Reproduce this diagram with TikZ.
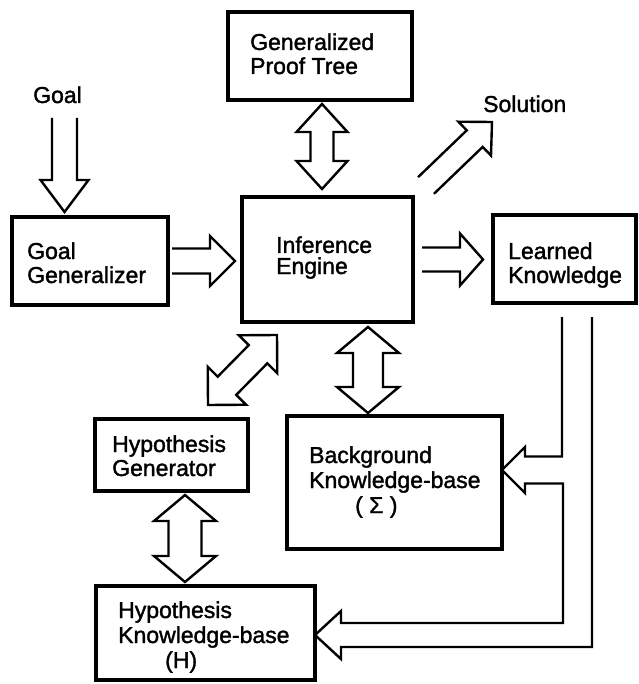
\documentclass[tikz,border=0pt]{standalone}
\usepackage{fontspec}
\setmainfont[FakeBold=1.5]{Liberation Sans}
\usetikzlibrary{calc}

% open-tailed hollow arrow: #1 tail, #2 tip, #3 half shaft, #4 half head, #5 head length
\newcommand\hollowopen[5]{%
  \path ($(#2)!#5!(#1)$) coordinate (ho-base);
  \draw[arrline] ($(#1)!#3!90:(#2)$) -- ($(ho-base)!#3!90:(#2)$)
    -- ($(ho-base)!#4!90:(#2)$) -- (#2) -- ($(ho-base)!#4!-90:(#2)$)
    -- ($(ho-base)!#3!-90:(#2)$) -- ($(#1)!#3!-90:(#2)$);
}
% closed hollow double arrow between tips #1 and #2
\newcommand\hollowdouble[5]{%
  \path ($(#1)!#5!(#2)$) coordinate (hd-a) ($(#2)!#5!(#1)$) coordinate (hd-b);
  \draw[arrline] (#1) -- ($(hd-a)!#4!90:(#2)$) -- ($(hd-a)!#3!90:(#2)$)
    -- ($(hd-b)!#3!-90:(#1)$) -- ($(hd-b)!#4!-90:(#1)$) -- (#2)
    -- ($(hd-b)!#4!90:(#1)$) -- ($(hd-b)!#3!90:(#1)$)
    -- ($(hd-a)!#3!-90:(#2)$) -- ($(hd-a)!#4!-90:(#2)$) -- cycle;
}

\tikzset{
  box/.style={draw, line width=3.2pt, inner sep=0pt, outer sep=0pt, anchor=north west},
  arrline/.style={draw, line width=2.4pt, line join=miter},
  txt/.style={font=\fontsize{23pt}{25pt}\selectfont, align=left, inner sep=0pt, anchor=base west},
}

\begin{document}
\begin{tikzpicture}[x=1pt, y=-1pt]
\path[use as bounding box] (0,0) rectangle (638,684);

% boxes
\node[box, minimum width=184pt, minimum height=88pt]  (gpt) at (228,12)  {};
\node[box, minimum width=156pt, minimum height=88pt]  (gg)  at (12,217)  {};
\node[box, minimum width=171pt, minimum height=125pt] (ie)  at (242,197) {};
\node[box, minimum width=143pt, minimum height=88pt]  (lk)  at (493,215) {};
\node[box, minimum width=153pt, minimum height=72pt]  (hg)  at (95,419)  {};
\node[box, minimum width=215pt, minimum height=133pt] (bk)  at (287,416) {};
\node[box, minimum width=219pt, minimum height=94pt]  (hk)  at (96,586)  {};

% texts (multi-line nodes sit on the baseline of their last line)
\node[txt] (goal-t) at (33,103)  {Goal};
\node[txt] (sol-t)  at (483,112) {Solution};
\node[txt, font=\fontsize{23pt}{24pt}\selectfont] (gpt-t) at (250,74)  {Generalized\\Proof Tree};
\node[txt, font=\fontsize{23pt}{24pt}\selectfont] (gg-t)  at (27,283)  {Goal\\Generalizer};
\node[txt, font=\fontsize{23pt}{21pt}\selectfont] (ie-t)  at (276,274) {Inference\\Engine};
\node[txt, font=\fontsize{23pt}{24pt}\selectfont] (lk-t)  at (508,283) {Learned\\Knowledge};
\node[txt, font=\fontsize{23pt}{24pt}\selectfont] (hg-t)  at (112,476) {Hypothesis\\Generator};
\node[txt] (bk-t) at (309,513) {Background\\Knowledge-base\\\hspace*{46pt}( Σ )};
\node[txt] (hk-t) at (118,668) {Hypothesis\\Knowledge-base\\\hspace*{47pt}(H)};

% one-way arrows
\coordinate (goaltail) at (64.5,118);
\coordinate (goaltip) at ($(goaltail |- gg.north)+(0,-5)$);
\hollowopen{goaltail}{goaltip}{12.5pt}{24pt}{32pt}

\coordinate (gg-out) at ($(gg.east)+(4,0)$);
\coordinate (ie-in) at ($(ie.west |- gg-out)+(-7,0)$);
\hollowopen{gg-out}{ie-in}{12.5pt}{25pt}{25pt}

\coordinate (ie-out) at ($(ie.east)+(9,0)$);
\coordinate (lk-in) at ($(lk.west |- ie-out)+(-10,0)$);
\hollowopen{ie-out}{lk-in}{12pt}{26pt}{23pt}

\coordinate (sol-tail) at ($(ie.north east)+(13,-11.5)$);
\coordinate (sol-tip) at ($(ie.north east)+(79,-75)$);
\hollowopen{sol-tail}{sol-tip}{11.5pt}{23.5pt}{24pt}

% two-way arrows
\coordinate (pa) at ($(gpt.south)+(2,4)$);
\coordinate (pb) at ($(pa |- ie.north)+(0,-8)$);
\hollowdouble{pa}{pb}{11.5pt}{25.5pt}{28pt}

\coordinate (ba) at ($(ie.south)+(40.5,5)$);
\coordinate (bb) at ($(ba |- bk.north)+(0,-3)$);
\hollowdouble{ba}{bb}{15pt}{31pt}{26pt}

\coordinate (da) at ($(ie.south west)+(35,13)$);
\coordinate (db) at ($(hg.north)+(36.5,-14)$);
\hollowdouble{da}{db}{13pt}{27pt}{27pt}

\coordinate (ha) at ($(hg.south)+(13.5,4)$);
\coordinate (hb) at ($(ha |- hk.north)+(0,-4)$);
\hollowdouble{ha}{hb}{16.5pt}{31pt}{26pt}

% learned knowledge fed back into both knowledge bases
\coordinate (lkA) at ($(lk.south)+(-2.5,14)$);
\coordinate (lkB) at ($(lk.south)+(27.5,14)$);
\coordinate (t1) at ($(bk.north east)+(0,54)$);
\coordinate (t2) at ($(hk.east)+(0,2)$);
\draw[arrline] (lkA) |- ($(t1)+(23,-13.5)$) -- ++(0,-9.5) -- (t1) -- ++(23,23) -- ++(0,-9.5)
  -| ($(t2)+(248,-12)$) -- ($(t2)+(26,-12)$) -- ++(0,-12) -- (t2) -- ++(26,24) -- ++(0,-12)
  -| (lkB);
\end{tikzpicture}
\end{document}
